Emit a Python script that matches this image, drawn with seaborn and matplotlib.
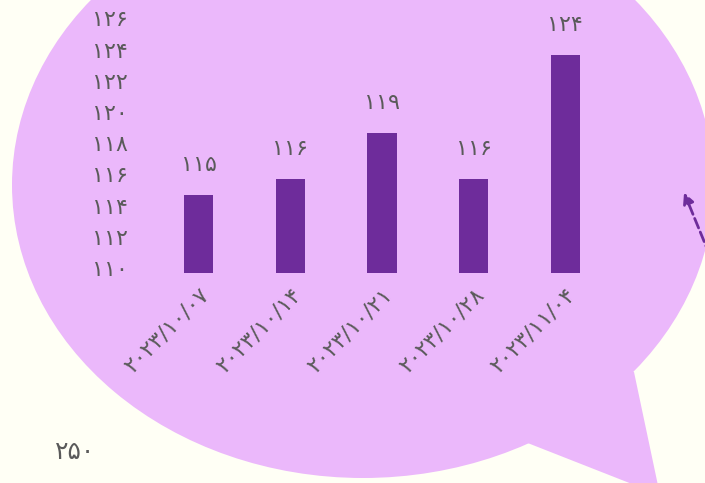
import matplotlib
matplotlib.use("Agg")
import matplotlib.pyplot as plt
import matplotlib.transforms as mtransforms
import seaborn as sns
import pandas as pd
from matplotlib.patches import Ellipse, Polygon, FancyArrowPatch

dates = ["۲۰۲۳/۱۰/۰۷", "۲۰۲۳/۱۰/۱۴", "۲۰۲۳/۱۰/۲۱", "۲۰۲۳/۱۰/۲۸", "۲۰۲۳/۱۱/۰۴"]
values = [115, 116, 119, 116, 124]
value_labels = ["۱۱۵", "۱۱۶", "۱۱۹", "۱۱۶", "۱۲۴"]
y_ticks = [110, 112, 114, 116, 118, 120, 122, 124, 126]
y_tick_labels = ["۱۱۰", "۱۱۲", "۱۱۴", "۱۱۶", "۱۱۸", "۱۲۰", "۱۲۲", "۱۲۴", "۱۲۶"]
footer = "۲۵۰"

bg = "#fffff5"
bubble = "#ebb8fb"
bar_color = "#6e2c9b"
text_color = "#5a5a5a"

sns.set_theme(style="white")
plt.rcParams['font.family'] = ['DejaVu Sans']

W, H = 705, 483
fig = plt.figure(figsize=(W / 100, H / 100), dpi=100, facecolor=bg)

def fx(px):
    return px / W

def fy(py):
    return 1 - py / H

# speech bubble
ell = Ellipse((fx(363), fy(185)), 702 / W, 586 / H, transform=fig.transFigure,
              facecolor=bubble, edgecolor="none", zorder=-2)
fig.add_artist(ell)
tail = Polygon([(fx(520), fy(440)), (fx(660), fy(495)), (fx(634), fy(372)), (fx(600), fy(360))],
               closed=True, transform=fig.transFigure, facecolor=bubble, edgecolor="none", zorder=-2)
fig.add_artist(tail)

ax = fig.add_axes([fx(153), fy(273), fx(611) - fx(153), 273 / H])
ax.set_facecolor("none")

df = pd.DataFrame({"date": dates, "value": values})
sns.barplot(data=df, x="date", y="value", color=bar_color, saturation=1, width=0.32,
            linewidth=0, ax=ax)

ax.set_ylim(110, 127.5)
ax.set_xlim(-0.5, 4.5)
ax.set_yticks(y_ticks)
ax.set_yticklabels(y_tick_labels)
ax.set_xticks(range(len(dates)))
ax.set_xticklabels(dates, rotation=45, ha="right", rotation_mode="anchor")
ax.tick_params(axis="both", length=0, labelsize=16, colors=text_color)
ax.tick_params(axis="y", pad=18)
ax.tick_params(axis="x", pad=8)
ax.set_xlabel("")
ax.set_ylabel("")
for s in ax.spines.values():
    s.set_visible(False)

shift = mtransforms.ScaledTranslation(0, 5 / 100, fig.dpi_scale_trans)
for lab in ax.get_yticklabels():
    lab.set_transform(lab.get_transform() + shift)

for i, (v, lab) in enumerate(zip(values, value_labels)):
    ax.annotate(lab, (i, v), xytext=(0, 30), textcoords="offset pixels",
                ha="center", va="center", fontsize=16, color=text_color)

fig.text(fx(75), fy(452), footer, ha="center", va="center", fontsize=18, color=text_color)

arrow = FancyArrowPatch((fx(722), fy(285)), (fx(683), fy(190)), transform=fig.transFigure,
                        arrowstyle="-|>", mutation_scale=16, linestyle="--", lw=2,
                        color=bar_color, zorder=3)
fig.add_artist(arrow)

fig.savefig("out.png", dpi=100, facecolor=bg)
